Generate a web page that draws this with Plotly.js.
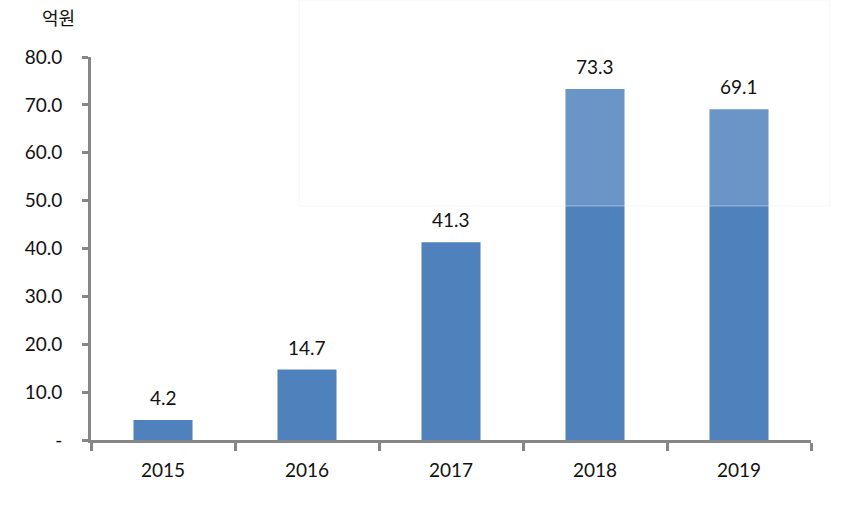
<!DOCTYPE html>
<html><head><meta charset="utf-8">
<script src="https://cdn.plot.ly/plotly-3.0.1.min.js"></script>
<style>body{margin:0;background:#fff}#c{width:850px;height:523px}</style>
</head><body><div id="c"></div>
<script>
const years = ['2015','2016','2017','2018','2019'];
const values = [4.2, 14.7, 41.3, 73.3, 69.1];
const valueLabels = ['4.2','14.7','41.3','73.3','69.1'];
const yTickVals = [0,10,20,30,40,50,60,70,80];
const yTickText = ['-','10.0','20.0','30.0','40.0','50.0','60.0','70.0','80.0'];
const unitLabel = '억원';

const font = "Lato, 'Noto Sans', sans-serif";
const trace = {
  type:'bar', x: years, y: values,
  marker:{color:'#4F81BD'}, width:0.41, hoverinfo:'none'
};
// category axis: annotation x given as category index
const ann = years.map((c,i)=>({
  x:years.indexOf(c), y:values[i], text:valueLabels[i], showarrow:false,
  yanchor:'bottom', yshift:9, font:{family:font,size:19,color:'#111'}
}));
ann.push({xref:'paper',yref:'paper',x:-0.019,y:1.104,xanchor:'right',yanchor:'middle',
  text:unitLabel,showarrow:false,font:{family:"'Noto Sans CJK KR'",size:18,color:'#111'}});
const layout = {
  width:850,height:523,
  margin:{l:91,r:39,t:57,b:83},
  paper_bgcolor:'#fff',plot_bgcolor:'#fff',
  showlegend:false,
  xaxis:{type:'category',categoryorder:'array',categoryarray:years,range:[-0.5,4.5],
    showline:true,linecolor:'#868686',linewidth:3,
    ticks:'outside',tickson:'boundaries',ticklen:8,tickwidth:3,tickcolor:'#868686',
    showgrid:false,zeroline:false,tickfont:{family:font,size:19,color:'#111'},tickangle:0,
    ticklabelstandoff:11},
  yaxis:{range:[0,80],showline:true,linecolor:'#868686',linewidth:3,
    ticks:'outside',ticklen:6,tickwidth:3,tickcolor:'#868686',
    tickvals:yTickVals,ticktext:yTickText,showgrid:false,zeroline:false,
    tickfont:{family:font,size:19,color:'#111'},ticklabelstandoff:16},
  annotations:ann,
  shapes:[{type:'rect',xref:'paper',yref:'paper',x0:0.289,x1:1.026,y0:0.611,y1:1.149,
    fillcolor:'rgba(255,255,255,0.16)',line:{color:'rgba(238,238,238,0.5)',width:1},layer:'above'}]
};
Plotly.newPlot('c',[trace],layout,{staticPlot:true});
</script></body></html>
